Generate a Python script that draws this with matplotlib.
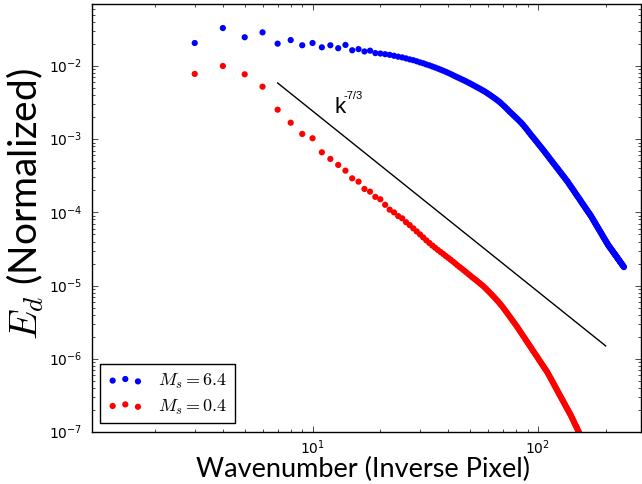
import matplotlib
matplotlib.use('Agg')
import matplotlib.pyplot as plt
from matplotlib.ticker import LogLocator, NullFormatter
import numpy as np

plt.style.use('classic')
plt.rcParams['figure.facecolor'] = 'white'
plt.rcParams['savefig.facecolor'] = 'white'
plt.rcParams['font.family'] = 'DejaVu Sans'
plt.rcParams['mathtext.fontset'] = 'cm'

# wavenumbers (integer k) and normalized spectra
k_high = np.arange(3, 242)
e_high = [
    0.0206, 0.0330, 0.0247, 0.0288, 0.0202, 0.0226, 0.0192,
    0.0206, 0.0180, 0.0192, 0.0175, 0.0194, 0.0164, 0.0170, 0.0158, 0.0162, 0.0150,
    0.0148, 0.0145, 0.0142, 0.0138, 0.0134, 0.0131, 0.0127, 0.0123, 0.0120, 0.0116,
    0.0112, 0.0109, 0.0105, 0.0102, 0.00986, 0.00954, 0.00923, 0.00892, 0.00863, 0.00834,
    0.00806, 0.00778, 0.00750, 0.00724, 0.00700, 0.00678, 0.00656, 0.00636, 0.00616, 0.00597,
    0.00578, 0.00559, 0.00541, 0.00524, 0.00508, 0.00493, 0.00478, 0.00464, 0.00450, 0.00435,
    0.00420, 0.00406, 0.00392, 0.00379, 0.00366, 0.00354, 0.00342, 0.00330, 0.00318, 0.00305,
    0.00293, 0.00281, 0.00270, 0.00259, 0.00248, 0.00238, 0.00229, 0.00220, 0.00212, 0.00204,
    0.00197, 0.00190, 0.00183, 0.00176, 0.00170, 0.00163, 0.00157, 0.00150, 0.00144, 0.00138,
    0.00132, 0.00126, 0.00121, 0.00116, 0.00111, 0.00107, 0.00103, 9.87e-4, 9.50e-4, 9.14e-4,
    8.79e-4, 8.46e-4, 8.15e-4, 7.85e-4, 7.56e-4, 7.29e-4, 7.03e-4, 6.77e-4, 6.52e-4, 6.29e-4,
    6.06e-4, 5.84e-4, 5.64e-4, 5.44e-4, 5.25e-4, 5.07e-4, 4.90e-4, 4.73e-4, 4.57e-4, 4.43e-4,
    4.28e-4, 4.14e-4, 4.00e-4, 3.88e-4, 3.75e-4, 3.63e-4, 3.52e-4, 3.41e-4, 3.30e-4, 3.20e-4,
    3.11e-4, 3.01e-4, 2.92e-4, 2.83e-4, 2.75e-4, 2.67e-4, 2.59e-4, 2.50e-4, 2.42e-4, 2.34e-4,
    2.27e-4, 2.20e-4, 2.13e-4, 2.06e-4, 2.00e-4, 1.94e-4, 1.88e-4, 1.82e-4, 1.76e-4, 1.71e-4,
    1.66e-4, 1.61e-4, 1.57e-4, 1.52e-4, 1.48e-4, 1.43e-4, 1.39e-4, 1.35e-4, 1.31e-4, 1.28e-4,
    1.24e-4, 1.21e-4, 1.17e-4, 1.14e-4, 1.11e-4, 1.08e-4, 1.05e-4, 1.02e-4, 9.97e-5, 9.70e-5,
    9.45e-5, 9.20e-5, 8.97e-5, 8.70e-5, 8.44e-5, 8.20e-5, 7.96e-5, 7.72e-5, 7.50e-5, 7.28e-5,
    7.07e-5, 6.87e-5, 6.68e-5, 6.49e-5, 6.31e-5, 6.13e-5, 5.97e-5, 5.80e-5, 5.64e-5, 5.49e-5,
    5.34e-5, 5.20e-5, 5.06e-5, 4.92e-5, 4.79e-5, 4.67e-5, 4.54e-5, 4.42e-5, 4.31e-5, 4.20e-5,
    4.09e-5, 3.99e-5, 3.88e-5, 3.79e-5, 3.69e-5, 3.60e-5, 3.52e-5, 3.45e-5, 3.38e-5, 3.31e-5,
    3.24e-5, 3.18e-5, 3.12e-5, 3.05e-5, 3.00e-5, 2.94e-5, 2.88e-5, 2.82e-5, 2.76e-5, 2.71e-5,
    2.66e-5, 2.61e-5, 2.56e-5, 2.51e-5, 2.46e-5, 2.41e-5, 2.37e-5, 2.32e-5, 2.28e-5, 2.24e-5,
    2.20e-5, 2.15e-5, 2.11e-5, 2.07e-5, 2.04e-5, 2.00e-5, 1.96e-5, 1.93e-5, 1.89e-5, 1.86e-5,
    1.83e-5, 1.79e-5,
]

k_low = np.arange(3, 161)
e_low = [
    0.0078, 0.0100, 0.0077, 0.00522, 0.00253, 0.00168, 0.00118,
    0.00103, 6.62e-4, 5.37e-4, 4.45e-4, 3.72e-4, 2.92e-4, 2.63e-4, 2.09e-4, 1.92e-4, 1.63e-4,
    1.51e-4, 1.27e-4, 1.09e-4, 1.00e-4, 8.9e-5, 8.3e-5, 7.35e-5, 6.7e-5, 6.05e-5, 5.5e-5,
    5.0e-5, 4.55e-5, 4.15e-5, 3.82e-5, 3.53e-5, 3.29e-5, 3.07e-5, 2.88e-5, 2.71e-5, 2.54e-5,
    2.40e-5, 2.26e-5, 2.13e-5, 2.01e-5, 1.89e-5, 1.79e-5, 1.70e-5, 1.61e-5, 1.53e-5, 1.45e-5,
    1.38e-5, 1.31e-5, 1.25e-5, 1.20e-5, 1.14e-5, 1.09e-5, 1.04e-5, 9.95e-6, 9.47e-6, 8.99e-6,
    8.54e-6, 8.11e-6, 7.70e-6, 7.31e-6, 6.94e-6, 6.59e-6, 6.26e-6, 5.94e-6, 5.63e-6, 5.33e-6,
    5.04e-6, 4.76e-6, 4.49e-6, 4.24e-6, 4.00e-6, 3.78e-6, 3.57e-6, 3.38e-6, 3.20e-6, 3.03e-6,
    2.87e-6, 2.72e-6, 2.57e-6, 2.43e-6, 2.30e-6, 2.18e-6, 2.06e-6, 1.96e-6, 1.85e-6, 1.76e-6,
    1.67e-6, 1.59e-6, 1.51e-6, 1.44e-6, 1.37e-6, 1.30e-6, 1.24e-6, 1.18e-6, 1.13e-6, 1.08e-6,
    1.03e-6, 9.80e-7, 9.36e-7, 8.96e-7, 8.56e-7, 8.19e-7, 7.84e-7, 7.50e-7, 7.19e-7, 6.89e-7,
    6.60e-7, 6.29e-7, 5.99e-7, 5.70e-7, 5.42e-7, 5.16e-7, 4.91e-7, 4.68e-7, 4.46e-7, 4.25e-7,
    4.05e-7, 3.86e-7, 3.68e-7, 3.52e-7, 3.36e-7, 3.21e-7, 3.07e-7, 2.94e-7, 2.81e-7, 2.69e-7,
    2.58e-7, 2.46e-7, 2.36e-7, 2.26e-7, 2.17e-7, 2.08e-7, 2.00e-7, 1.92e-7, 1.84e-7, 1.77e-7,
    1.70e-7, 1.62e-7, 1.55e-7, 1.48e-7, 1.42e-7, 1.35e-7, 1.29e-7, 1.24e-7, 1.19e-7, 1.14e-7,
    1.09e-7, 1.04e-7, 1.00e-7, 9.54e-8, 9.12e-8, 8.72e-8, 8.34e-8, 7.97e-8, 7.61e-8, 7.29e-8,
    6.98e-8,
]

# reference slope line
ref_k = [7, 200]
ref_e = [5.86e-3, 1.5e-6]

labels = [r'$M_s = 6.4$', r'$M_s = 0.4$']

fig = plt.figure(figsize=(6.42, 4.85), dpi=100)
ax = fig.add_axes([92 / 642., 52 / 485., 549 / 642., 428 / 485.])

ax.scatter(k_high, e_high, s=20, c='b', edgecolors='none', label=labels[0])
ax.scatter(k_low, e_low, s=20, c='r', edgecolors='none', label=labels[1])
ax.plot(ref_k, ref_e, color='black', linewidth=1.0)

ax.text(12.5, 2.36e-3, 'k', fontsize=16, family='Liberation Sans', va='baseline')
ax.text(13.7, 3.65e-3, '-7/3', fontsize=8, family='Liberation Sans', va='baseline')

ax.set_xscale('log')
ax.set_yscale('log')
ax.set_xlim(1.05, 287)
ax.set_ylim(1e-7, 0.0703)

for axis in (ax.xaxis, ax.yaxis):
    axis.set_major_locator(LogLocator(base=10, numticks=20))
    axis.set_minor_locator(LogLocator(base=10, subs=np.arange(2, 10), numticks=20))
    axis.set_minor_formatter(NullFormatter())

ax.tick_params(axis='both', which='major', labelsize=10, length=4)
ax.tick_params(axis='both', which='minor', length=2)
ax.tick_params(axis='y', which='both', pad=7)

ax.set_xlabel('Wavenumber (Inverse Pixel)', fontsize=19.5, family='Lato')
ax.set_ylabel(r'$E_d$ (Normalized)', fontsize=28, family='Lato')
ax.xaxis.set_label_coords(0.493, -0.056)
ax.yaxis.set_label_coords(-0.083, 0.535)

ax.legend(loc='lower left', bbox_to_anchor=(0.0146, 0.021), borderaxespad=0,
          scatterpoints=3, fontsize=13, handlelength=2.0, handletextpad=0.8,
          fancybox=False, labelspacing=0.35)

fig.savefig('out.png', dpi=100)
